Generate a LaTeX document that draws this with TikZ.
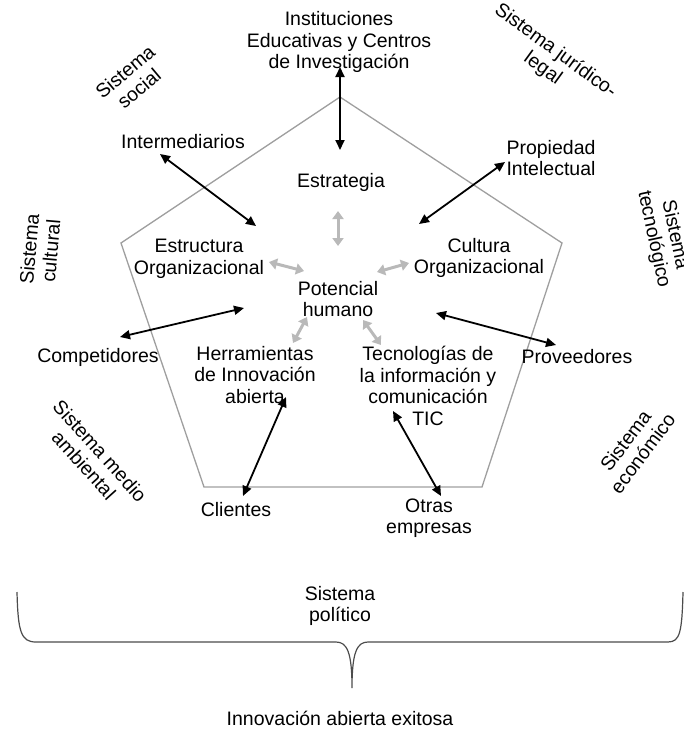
\documentclass[tikz,border=0pt]{standalone}
\usepackage{fontspec}
\setmainfont{Liberation Sans}
\usetikzlibrary{arrows.meta}
\begin{document}
\begin{tikzpicture}[x=1pt,y=-1pt,
  lbl/.style={align=center,inner sep=0pt,font=\fontsize{19.5}{21.5}\selectfont},
  sys/.style={lbl},
  darrow/.style={line width=1.8pt,black,{Triangle[length=10pt,width=9pt]}-{Triangle[length=10pt,width=9pt]}},
  garrow/.style={line width=3pt,gray!55,{Triangle[length=8pt,width=11pt]}-{Triangle[length=8pt,width=11pt]}},
  pent/.style={draw=gray!75,line width=1.3pt},
  brace/.style={draw=black!70,line width=1.2pt}]
\path[use as bounding box] (0,0) rectangle (683,731);

% pentagon
\coordinate (p1) at (340,97);
\coordinate (p2) at (562,243);
\coordinate (p3) at (482,487);
\coordinate (p4) at (204,487);
\coordinate (p5) at (121,243);
\draw[pent] (p1) -- (p2) -- (p3) -- (p4) -- (p5) -- cycle;

% outer actors
\node[lbl] (inst) at (339,42) {Instituciones\\Educativas y Centros\\de Investigación};
\node[lbl] (inter) at (183,142) {Intermediarios};
\node[lbl] (prop) at (551,158) {Propiedad\\Intelectual};
\node[lbl] (comp) at (98,357) {Competidores};
\node[lbl] (prov) at (577,357) {Proveedores};
\node[lbl] (cli) at (236,510) {Clientes};
\node[lbl] (otras) at (429,518) {Otras\\empresas};

% inner elements
\node[lbl] (estr) at (341,182) {Estrategia};
\node[lbl] (eorg) at (199,259) {Estructura\\Organizacional};
\node[lbl] (corg) at (479,258) {Cultura\\Organizacional};
\node[lbl] (pot) at (338,299) {Potencial\\humano};
\node[lbl] (herr) at (255,375) {Herramientas\\de Innovación\\abierta};
\node[lbl] (tic) at (428,386) {Tecnologías de\\la información y\\comunicación\\TIC};

% systems
\node[sys,rotate=40] (ssoc) at (132,80) {Sistema\\social};
\node[sys,rotate=-36] (sjur) at (549,60) {Sistema jurídico-\\legal};
\node[sys,rotate=-78] (stec) at (664,237) {Sistema\\tecnológico};
\node[sys,rotate=85] (scul) at (40,250) {Sistema\\cultural};
\node[sys,rotate=-48] (samb) at (92,458) {Sistema medio\\ambiental};
\node[sys,rotate=53] (seco) at (634,447) {Sistema\\económico};
\node[lbl] (spol) at (340,606) {Sistema\\político};
\node[lbl] (exit) at (340,718) {Innovación abierta exitosa};

% black arrow ends
\coordinate (a1) at (340,67);  \coordinate (a2) at (340,150);
\coordinate (b1) at (160,154); \coordinate (b2) at (256,226);
\coordinate (c1) at (505,162); \coordinate (c2) at (419,224);
\coordinate (d1) at (120,337); \coordinate (d2) at (244,308);
\coordinate (e1) at (436,313); \coordinate (e2) at (556,345);
\coordinate (f1) at (286,397); \coordinate (f2) at (243,496);
\coordinate (g1) at (393,411); \coordinate (g2) at (441,496);
\draw[darrow] (a1) -- (a2);
\draw[darrow] (b1) -- (b2);
\draw[darrow] (c1) -- (c2);
\draw[darrow] (d1) -- (d2);
\draw[darrow] (e1) -- (e2);
\draw[darrow] (f1) -- (f2);
\draw[darrow] (g1) -- (g2);

% gray arrow ends
\coordinate (h1) at (338,211); \coordinate (h2) at (338,246);
\coordinate (i1) at (269,262); \coordinate (i2) at (304,271);
\coordinate (j1) at (377,272); \coordinate (j2) at (409,263);
\coordinate (k1) at (307,317); \coordinate (k2) at (293,343);
\coordinate (l1) at (363,320); \coordinate (l2) at (381,345);
\draw[garrow] (h1) -- (h2);
\draw[garrow] (i1) -- (i2);
\draw[garrow] (j1) -- (j2);
\draw[garrow] (k1) -- (k2);
\draw[garrow] (l1) -- (l2);

% brace
\coordinate (bl) at (17,592);
\coordinate (br) at (683,592);
\coordinate (bt) at (352,688);
\draw[brace] (bl) .. controls (18,632) and (21,642) .. (36,642) -- (336,642)
  .. controls (347,642) and (352,652) .. (bt)
  .. controls (352,652) and (357,642) .. (368,642) -- (668,642)
  .. controls (680,642) and (682,632) .. (br);
\end{tikzpicture}
\end{document}
